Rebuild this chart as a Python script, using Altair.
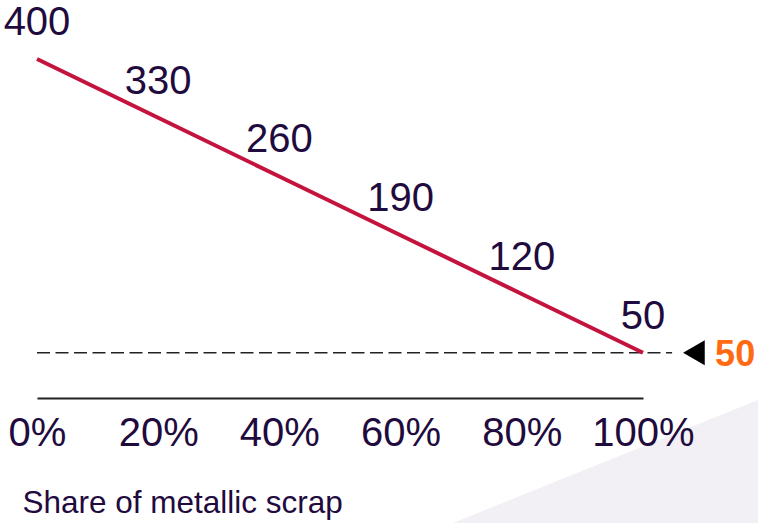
import altair as alt
import pandas as pd

# Data
share = [0, 20, 40, 60, 80, 100]
values = [400, 330, 260, 190, 120, 50]
target_value = 50
target_label = ["50"]
dash_x = [0, 104.8]
marker_x = [108.4]
label_x = [111.9]
bg_x = [68.6, 119.0]
bg_top = [-153, -6.4]
bg_bottom = [-153, -153]
x_title = "Share of metallic scrap"

TEXT = "#1F0B3D"
LINE = "#C4143E"
ORANGE = "#FF6A13"
FONT = "Liberation Sans"

df = pd.DataFrame({"share": share, "value": values, "label": [str(v) for v in values]})
bg = pd.DataFrame({"x": bg_x, "top": bg_top, "bottom": bg_bottom})
dash = pd.DataFrame({"x": [dash_x[0]], "x2": [dash_x[1]], "y": [target_value]})
marker = pd.DataFrame({"x": marker_x, "y": [target_value]})
lbl = pd.DataFrame({"x": label_x, "y": [target_value], "t": target_label})

xscale = alt.Scale(domain=[0, 100], nice=False, zero=False)
yscale = alt.Scale(domain=[-4, 400], nice=False, zero=False)

xaxis = alt.Axis(
    values=share,
    labelExpr="datum.value + '%'",
    grid=False,
    ticks=False,
    domain=True,
    domainColor="#222222",
    domainWidth=2,
    labelFont=FONT,
    labelFontSize=40,
    labelColor=TEXT,
    labelPadding=15,
    labelFlush=False,
    labelOverlap=False,
    title=x_title,
    titleFont=FONT,
    titleFontSize=31.5,
    titleFontWeight="normal",
    titleColor=TEXT,
    titleAnchor="start",
    titleAlign="left",
    titleBaseline="middle",
    titleX=-15,
    titleY=105,
    zindex=2,
)

background = alt.Chart(bg).mark_area(color="#F2F0F4", opacity=1).encode(
    x=alt.X("x:Q", scale=xscale, axis=xaxis),
    y=alt.Y("top:Q", scale=yscale, axis=None),
    y2="bottom:Q",
)

dash_rule = alt.Chart(dash).mark_rule(color="#222222", strokeWidth=1.6, strokeDash=[13, 5.5]).encode(
    x=alt.X("x:Q", scale=xscale),
    x2="x2:Q",
    y=alt.Y("y:Q", scale=yscale),
)

line = alt.Chart(df).mark_line(color=LINE, strokeWidth=4).encode(
    x=alt.X("share:Q", scale=xscale),
    y=alt.Y("value:Q", scale=yscale),
)

labels = alt.Chart(df).mark_text(
    font=FONT, fontSize=40, color=TEXT, align="center", baseline="middle", dy=-36
).encode(
    x=alt.X("share:Q", scale=xscale),
    y=alt.Y("value:Q", scale=yscale),
    text="label:N",
)

tri = alt.Chart(marker).mark_point(
    shape="triangle-left", filled=True, color="#000000", size=625, opacity=1
).encode(
    x=alt.X("x:Q", scale=xscale),
    y=alt.Y("y:Q", scale=yscale),
)

tlabel = alt.Chart(lbl).mark_text(
    font=FONT, fontSize=36, fontWeight="bold", color=ORANGE, align="left", baseline="middle", dy=2
).encode(
    x=alt.X("x:Q", scale=xscale),
    y=alt.Y("y:Q", scale=yscale),
    text="t:N",
)

chart = alt.layer(background, dash_rule, line, labels, tri, tlabel).properties(
    width=606,
    height=339,
    background="white",
    autosize=alt.AutoSizeParams(type="none"),
    padding={"left": 37, "top": 59, "right": 115, "bottom": 125},
).configure_view(stroke=None, strokeWidth=0)

chart.save("out.html", embed_options={"renderer": "svg", "actions": False})
